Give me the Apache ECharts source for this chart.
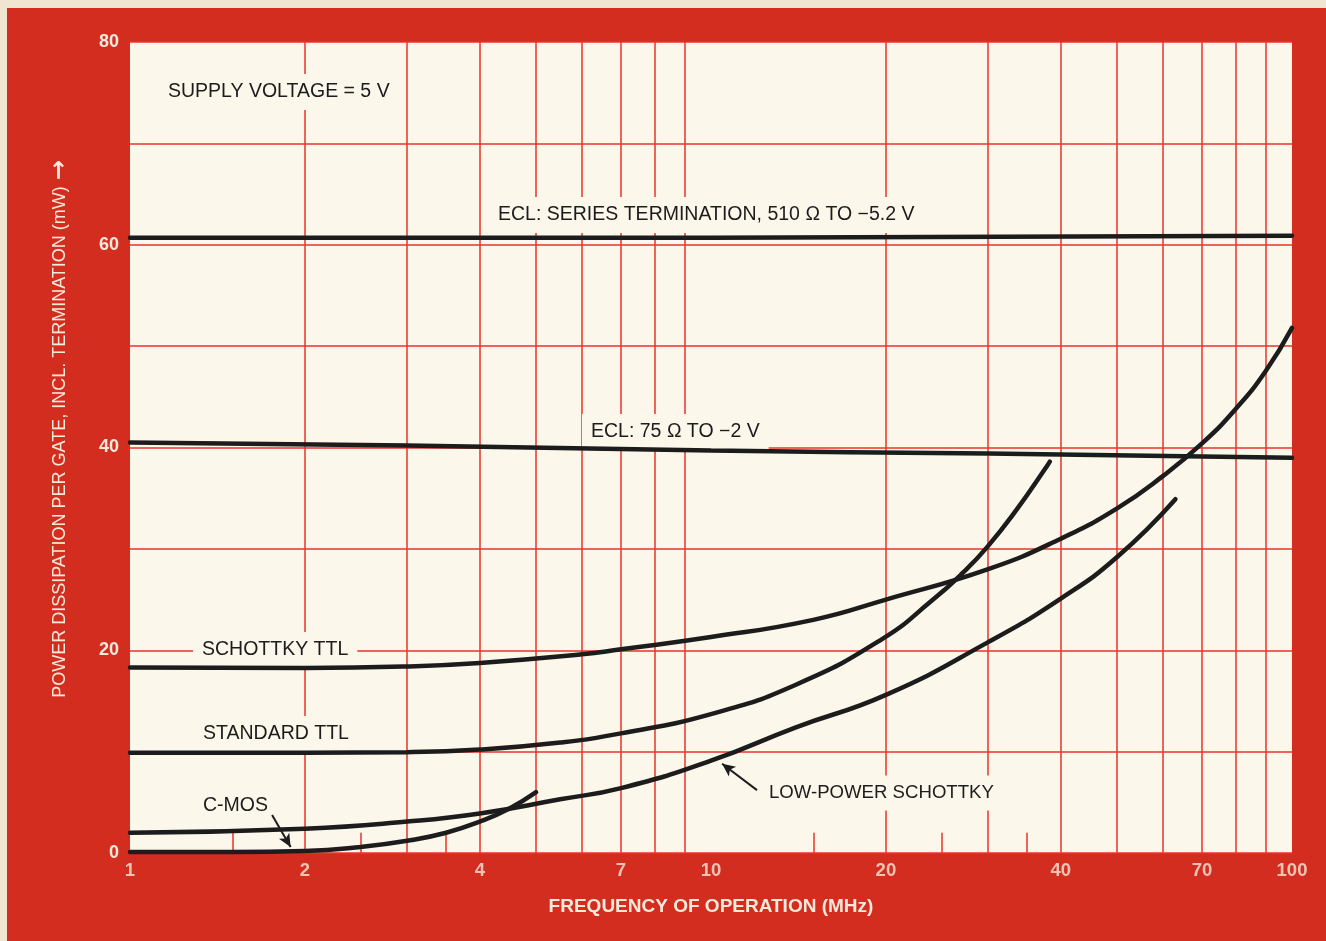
<!DOCTYPE html>
<html>
<head>
<meta charset="utf-8">
<script src="https://cdn.jsdelivr.net/npm/echarts@6/dist/echarts.min.js"></script>
<style>
html,body{margin:0;padding:0;background:#efe5d0;}
#c{width:1326px;height:941px;}
</style>
</head>
<body>
<div id="c"></div>
<script>
// ---- tick / grid values ----
const xTickLabels = [1, 2, 4, 7, 10, 20, 40, 70, 100];
const yTickLabels = [0, 20, 40, 60, 80];
const gridFreqs = [2, 3, 4, 5, 6, 7, 8, 9, 20, 30, 40, 50, 60, 70, 80, 90];
const shortTickFreqs = [1.5, 2.5, 3.5, 15, 25, 35];

// ---- series (frequency MHz, power mW) ----
const eclSeriesFreq  = [1, 10, 100];
const eclSeriesPower = [60.7, 60.7, 60.9];

const ecl75Freq  = [1, 3, 10, 30, 100];
const ecl75Power = [40.5, 40.2, 39.7, 39.4, 39.0];

const schottkyFreq  = [1, 2, 3, 4, 6, 7, 10, 15, 20, 30, 40, 50, 60, 70, 80, 90, 100];
const schottkyPower = [18.3, 18.25, 18.4, 18.75, 19.6, 20.1, 21.3, 23.0, 25.0, 28.0, 31.0, 34.0, 37.2, 40.4, 43.8, 47.5, 51.8];

const standardFreq  = [1, 2, 3, 4, 5.5, 7, 10, 14, 19.7, 24, 27.2, 29.9, 33.6, 37.9, 38.3];
const standardPower = [9.9, 9.9, 9.95, 10.2, 10.9, 11.8, 13.7, 16.6, 21.1, 24.9, 27.7, 30.2, 33.9, 38.2, 38.6];

const lpsFreq  = [1, 2, 3, 4, 5.5, 7, 10, 14, 20, 30, 40, 50, 63];
const lpsPower = [2.0, 2.4, 3.1, 3.9, 5.3, 6.4, 9.1, 12.4, 15.6, 20.8, 25.1, 29.2, 34.9];

const cmosFreq  = [1, 1.5, 2, 2.5, 3, 3.5, 4, 4.5, 5];
const cmosPower = [0.1, 0.1, 0.2, 0.6, 1.2, 2.0, 3.1, 4.4, 6.0];

// arrows (data coords): [fromFreq, fromPower, toFreq, toPower]
const cmosArrow = [1.756, 3.75, 1.89, 0.6];
const lpsArrow  = [12.0, 6.2, 10.45, 8.8];

// ---- styling ----
const RED = '#d32d1f';
const GRID_RED = '#e8342a';
const CREAM = '#fbf7ea';
const LABEL_CREAM = '#f8e9da';
const INK = '#1c1c1c';
const FONT = '"Liberation Sans", Arial, Helvetica, sans-serif';

const zip = (xs, ys) => xs.map((x, i) => [x, ys[i]]);

const chart = echarts.init(document.getElementById('c'), null, {renderer: 'canvas'});

function curve(name, xs, ys, extra) {
  return Object.assign({
    name: name,
    type: 'line',
    data: zip(xs, ys),
    smooth: 0.5,
    showSymbol: false,
    symbol: 'none',
    clip: false,
    z: 10,
    silent: true,
    lineStyle: {color: INK, width: 4.5, cap: 'round'},
    animation: false
  }, extra || {});
}

const gridLineData = gridFreqs.map(f => ({xAxis: f}));
const shortTickData = shortTickFreqs.map(f => [{coord: [f, 0]}, {coord: [f, 2]}]);

const labelStyle = (text, x, y, size) => ({
  type: 'text',
  z: 5,
  x: x, y: y,
  silent: true,
  style: {
    text: text,
    fill: INK,
    font: (size || 19.5) + 'px ' + FONT,
    verticalAlign: 'middle',
    align: 'left',
    backgroundColor: CREAM,
    padding: [8, 9]
  }
});

const option = {
  backgroundColor: RED,
  animation: false,
  grid: {
    left: 130, right: 34, top: 42, bottom: 88,
    show: true, backgroundColor: CREAM, borderWidth: 0
  },
  xAxis: {
    type: 'log', logBase: 10, min: 1, max: 100,
    axisLine: {show: false}, axisTick: {show: false},
    axisLabel: {show: false}, splitLine: {show: false},
    name: 'FREQUENCY OF OPERATION (MHz)',
    nameLocation: 'middle', nameGap: 44,
    nameTextStyle: {color: LABEL_CREAM, fontSize: 19, fontWeight: 'bold', fontFamily: FONT}
  },
  yAxis: {
    type: 'value', min: 0, max: 80, interval: 10,
    axisLine: {show: false}, axisTick: {show: false},
    splitLine: {show: true, lineStyle: {color: GRID_RED, width: 1.5}},
    axisLabel: {
      color: LABEL_CREAM, fontSize: 18, fontWeight: 'bold', fontFamily: FONT, margin: 11,
      formatter: v => (yTickLabels.indexOf(v) >= 0 ? String(v) : '')
    }
  },
  graphic: [
    {type: 'rect', z: 50, shape: {x: 0, y: 0, width: 1326, height: 8}, style: {fill: '#efe5d0'}, silent: true},
    {type: 'rect', z: 50, shape: {x: 0, y: 0, width: 7, height: 941}, style: {fill: '#efe5d0'}, silent: true},
    {
      type: 'text', z: 5, x: 60, y: 442, rotation: Math.PI / 2, silent: true,
      style: {
        text: 'POWER DISSIPATION PER GATE, INCL. TERMINATION (mW)',
        fill: LABEL_CREAM, font: '18px ' + FONT, align: 'center', verticalAlign: 'middle'
      }
    },
    {
      type: 'text', z: 5, x: 60, y: 170, rotation: Math.PI / 2, silent: true,
      style: {
        text: '\u2192',
        fill: LABEL_CREAM, font: 'bold 24px "DejaVu Sans", sans-serif', align: 'center', verticalAlign: 'middle'
      }
    },
    labelStyle('SUPPLY VOLTAGE = 5 V', 159, 92),
    labelStyle('ECL: SERIES TERMINATION, 510 \u03A9 TO \u22125.2 V', 489, 215),
    labelStyle('ECL: 75 \u03A9 TO \u22122 V', 582, 432),
    labelStyle('SCHOTTKY TTL', 193, 650),
    labelStyle('STANDARD TTL', 194, 734),
    labelStyle('C-MOS', 194, 806),
    labelStyle('LOW-POWER SCHOTTKY', 760, 793, 18.6)
  ],
  series: [
    {
      name: 'ticks',
      type: 'scatter',
      z: 1,
      silent: true,
      clip: false,
      symbolSize: 1,
      itemStyle: {color: 'rgba(0,0,0,0)'},
      data: xTickLabels.map(v => [v, 0]),
      label: {
        show: true, position: 'bottom', distance: 8,
        formatter: p => String(p.value[0]),
        color: LABEL_CREAM, fontSize: 18.5, fontWeight: 'bold', fontFamily: FONT
      },
      markLine: {
        z: 1,
        silent: true, symbol: 'none', animation: false,
        label: {show: false},
        emphasis: {disabled: true},
        lineStyle: {color: GRID_RED, width: 1.5, type: 'solid'},
        data: gridLineData.concat(shortTickData)
      }
    },
    curve('ECL: series termination, 510 Ω to −5.2 V', eclSeriesFreq, eclSeriesPower, {smooth: false}),
    curve('ECL: 75 Ω to −2 V', ecl75Freq, ecl75Power),
    curve('Schottky TTL', schottkyFreq, schottkyPower),
    curve('Standard TTL', standardFreq, standardPower),
    curve('Low-power Schottky', lpsFreq, lpsPower, {
      markLine: {
        z: 12,
        silent: true, animation: false, symbol: ['none', 'arrow'], symbolSize: [9, 13],
        label: {show: false}, emphasis: {disabled: true},
        lineStyle: {color: INK, width: 2, type: 'solid'},
        data: [
          [{coord: [lpsArrow[0], lpsArrow[1]]}, {coord: [lpsArrow[2], lpsArrow[3]]}],
          [{coord: [cmosArrow[0], cmosArrow[1]]}, {coord: [cmosArrow[2], cmosArrow[3]]}]
        ]
      }
    }),
    curve('C-MOS', cmosFreq, cmosPower)
  ]
};

chart.setOption(option);
</script>
</body>
</html>
